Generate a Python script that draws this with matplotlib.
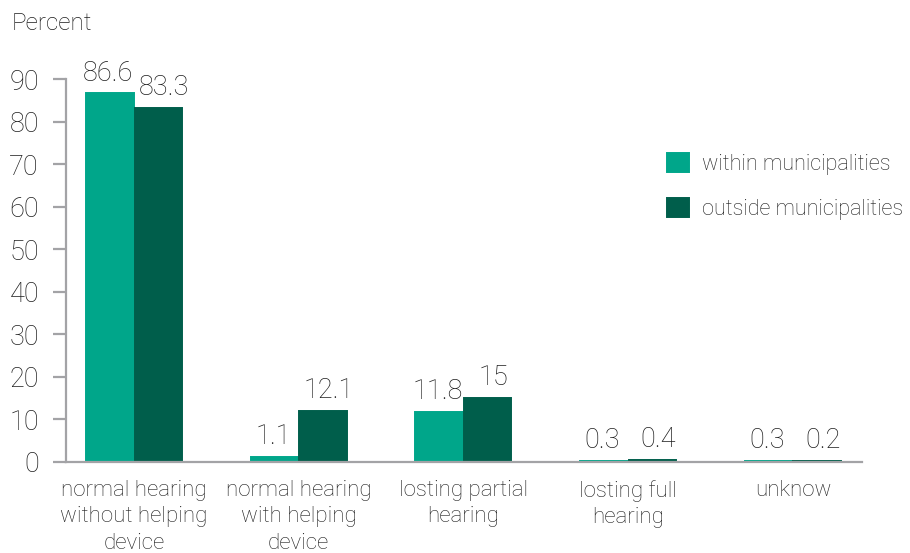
import matplotlib
matplotlib.use("Agg")
import matplotlib.pyplot as plt
import numpy as np

categories = ["normal hearing\nwithout helping\ndevice", "normal hearing\nwith helping\ndevice",
              "losting partial\nhearing", "losting full\nhearing", "unknow"]
within = [86.6, 1.1, 11.8, 0.3, 0.3]
outside = [83.3, 12.1, 15, 0.4, 0.2]
within_labels = ["86.6", "1.1", "11.8", "0.3", "0.3"]
outside_labels = ["83.3", "12.1", "15", "0.4", "0.2"]
yticks = [0, 10, 20, 30, 40, 50, 60, 70, 80, 90]
series_names = ["within municipalities", "outside municipalities"]

c1 = "#00A68A"
c2 = "#005E4B"
gray = "#A3A3A6"
txt = "#1E1E1E"

plt.rcParams['font.family'] = ['Roboto', 'DejaVu Sans']
plt.rcParams['font.weight'] = 'light'
fs_tick = 19.5
fs_val = 19.5
fs_cat = 16
fs_leg = 15.6
fs_title = 17.5

fig = plt.figure(figsize=(9.1, 5.53), dpi=100)
ax = fig.add_axes([66/910, 1-462/553, (862-66)/910, (462-79)/553])

x = np.arange(len(categories))
w = 0.288
b1 = ax.bar(x - w/2 - 0.003, within, w, color=c1, edgecolor=c1, linewidth=1.4,
            label=series_names[0])
b2 = ax.bar(x + w/2 + 0.003, outside, w, color=c2, edgecolor=c2, linewidth=1.4,
            label=series_names[1])

for rect, lab in zip(b1, within_labels):
    ax.annotate(lab, (rect.get_x() + rect.get_width()/2, rect.get_height()),
                xytext=(-1, 5), textcoords="offset points", ha="center", va="bottom",
                fontsize=fs_val, color=txt, annotation_clip=False)
for rect, lab in zip(b2, outside_labels):
    ax.annotate(lab, (rect.get_x() + rect.get_width()/2, rect.get_height()),
                xytext=(4, 5), textcoords="offset points", ha="center", va="bottom",
                fontsize=fs_val, color=txt, annotation_clip=False)

ax.set_xlim(-0.413, 4.42)
ax.set_ylim(0, 90)
ax.set_yticks(yticks)
ax.set_yticklabels([str(t) for t in yticks], fontsize=fs_tick, color=txt)
ax.set_xticks(x)
ax.set_xticklabels(categories, fontsize=fs_cat, color=txt, linespacing=1.33, va="top")
ax.tick_params(axis="x", length=0, pad=13)
ax.tick_params(axis="y", length=9.4, width=1.6, color=gray, pad=10)

for s in ["top", "right"]:
    ax.spines[s].set_visible(False)
for s in ["left", "bottom"]:
    ax.spines[s].set_color(gray)
    ax.spines[s].set_linewidth(1.6)
    ax.spines[s].set_zorder(3)

fig.text(12/910, 1-30/553, "Percent", fontsize=fs_title, color=txt, ha="left", va="baseline")

leg = fig.legend(handles=[b1, b2], labels=series_names, loc="upper left",
                 bbox_to_anchor=(667/910, 1-153/553), frameon=False, fontsize=fs_leg,
                 handlelength=1.0, handleheight=1.0, handletextpad=0.62,
                 labelspacing=1.05, borderaxespad=0, borderpad=0)
for t in leg.get_texts():
    t.set_color(txt)

fig.savefig("out.png", dpi=100)
